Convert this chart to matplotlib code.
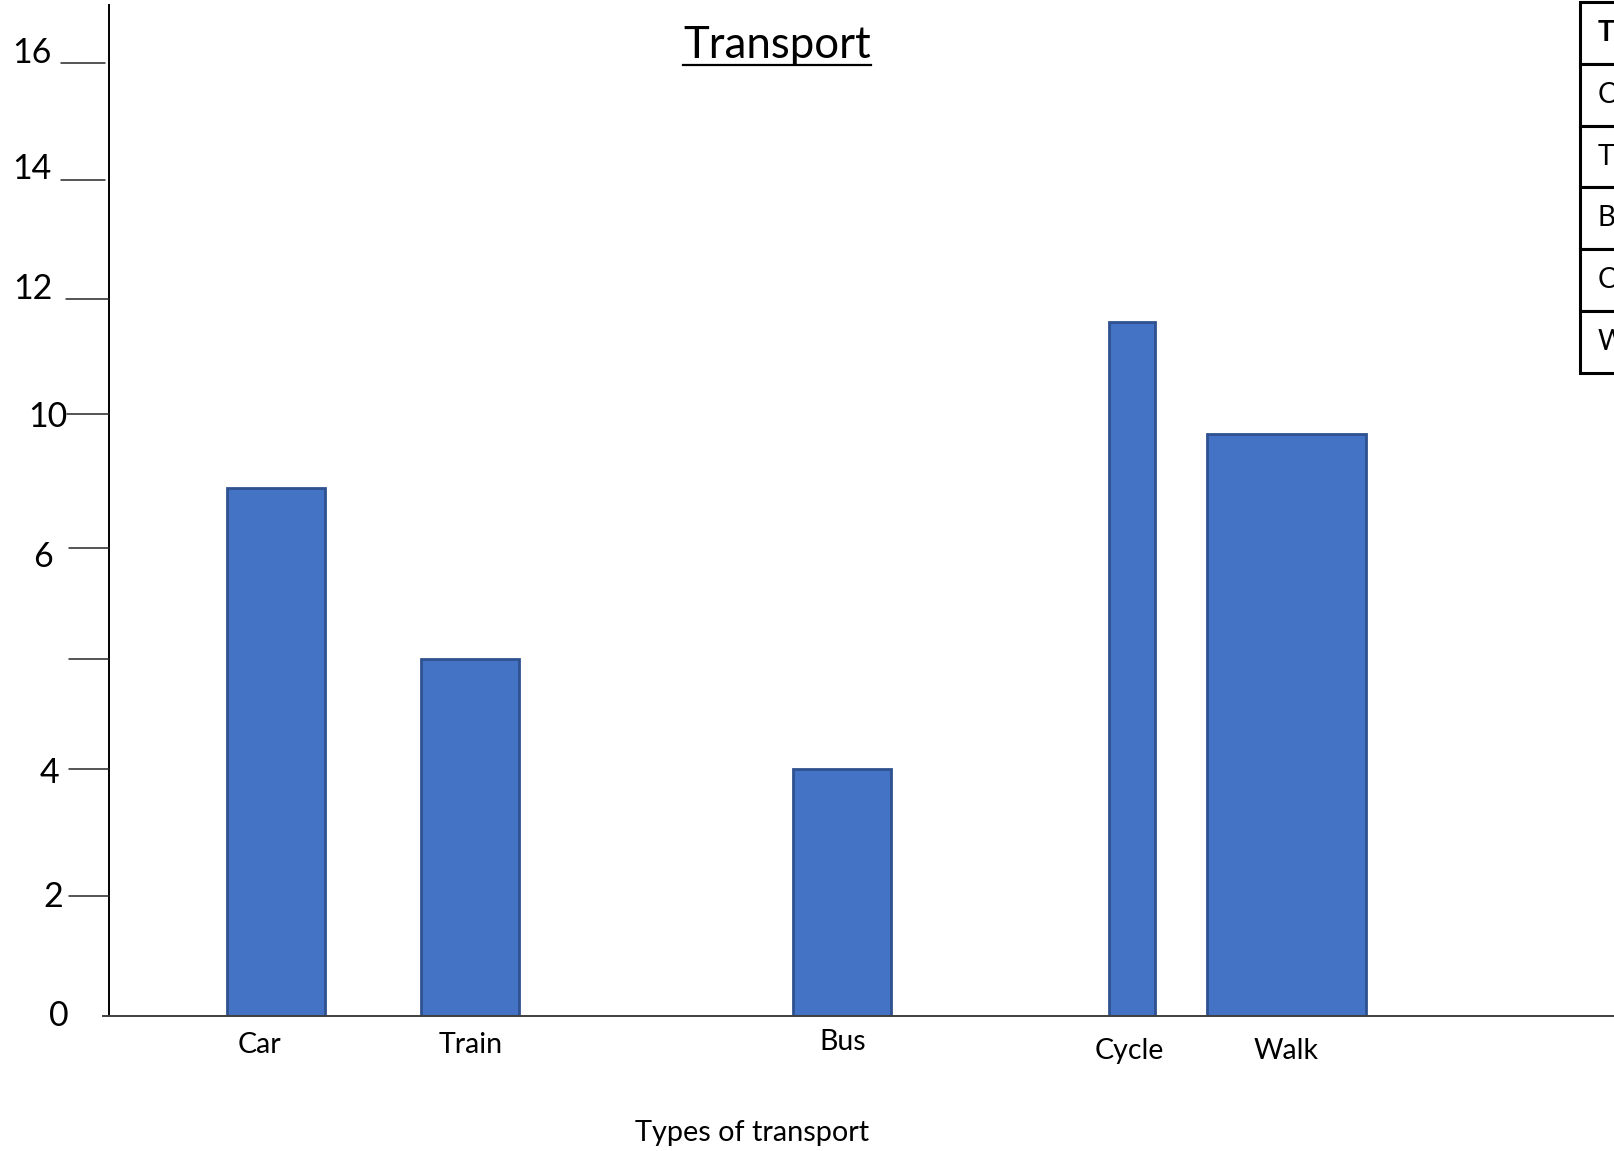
"""Transport bar chart with a hand-drawn style, uneven value axis."""

import numpy as np
import matplotlib
matplotlib.use("Agg")
import matplotlib.pyplot as plt
from matplotlib.lines import Line2D

plt.rcParams["font.family"] = ["Lato", "DejaVu Sans"]

# data
categories = ["Car", "Train", "Bus", "Cycle", "Walk"]
values = [7.8, 5, 4, 11.6, 9.4]
tick_values = [0, 2, 4, 5, 6, 10, 12, 14, 16]
tick_labels = ["0", "2", "4", "", "6", "10", "12", "14", "16"]
table_header = ["Transport", "Number"]
table_numbers = ["8", "5", "4", "12", "10"]

# layout (pixels, figure is 1614x1151 at dpi 100)
W, H = 1614, 1151
axis_x0 = 103          # left end of the x axis line
yaxis_px = 6           # y axis sits this far right of axis_x0
base_px = 1016         # baseline y (from top)
# uneven axis drawn by hand: value -> height above baseline (px)
scale_vals = [0, 2, 4, 5, 6, 10, 12, 14, 16, 17]
scale_px = [0, 120, 247, 357, 468, 602, 717, 836, 953, 1011]

bar_centers = [167.4, 361, 732.5, 1022.7, 1177]
bar_widths = [98, 98, 98, 46, 159]
label_offsets = [(-17, -29), (1, -29), (1.5, -26), (-2, -35), (0, -35)]

# tick line start (px left of the y axis) and label (right edge px left, dy px)
tick_start = [0, 40, 40, 40, 40, 42, 43, 48, 48]
tick_end = [0, 0, 0, 0, 0, 0, 0, 4, 4]
label_right = [40, 46, 50, 0, 56, 42, 56, 58, 57]
label_dy = [0, 1, 4, 0, 9, 3, -10, -11, -10]


def forward(v):
    return np.interp(v, scale_vals, scale_px)


def inverse(p):
    return np.interp(p, scale_px, scale_vals)


fig = plt.figure(figsize=(W / 100, H / 100), dpi=100)
ax = fig.add_axes([axis_x0 / W, (H - base_px) / H,
                   (W - axis_x0) / W, scale_px[-1] / H])
ax.set_yscale("function", functions=(forward, inverse))
ax.set_ylim(0, 17)
ax.set_xlim(-yaxis_px, W - axis_x0 - yaxis_px)

ax.bar(bar_centers, values, width=bar_widths, color="#4472C4",
       edgecolor="#2F528F", linewidth=2, zorder=2)

for side in ["top", "right"]:
    ax.spines[side].set_visible(False)
ax.spines["left"].set_position(("data", 0))
ax.spines["left"].set_linewidth(1.4)
ax.spines["bottom"].set_linewidth(1.4)
ax.spines["bottom"].set_color("#404040")
ax.set_xticks([])
ax.set_yticks([])

# hand-drawn ticks and labels
px = 72 / 100
for i, v in enumerate(tick_values):
    if tick_start[i] > 0:
        ax.annotate("", xy=(-tick_end[i], v), xytext=(-tick_start[i], v),
                    xycoords="data", textcoords="data",
                    arrowprops=dict(arrowstyle="-", color="#262626", lw=1.1,
                                    shrinkA=0, shrinkB=0), annotation_clip=False)
    if tick_labels[i]:
        ax.annotate(tick_labels[i], xy=(0, v),
                    xytext=(-label_right[i] * px, -label_dy[i] * px),
                    textcoords="offset points", ha="right", va="center",
                    fontsize=24.5, annotation_clip=False)

for name, x, (dx, dy) in zip(categories, bar_centers, label_offsets):
    ax.annotate(name, xy=(x, 0), xytext=(dx * px, dy * px),
                textcoords="offset points", ha="center", va="center",
                fontsize=20.5, annotation_clip=False)

fig.text(752 / W, 1 - 1133 / H, "Types of transport", ha="center",
         va="center", fontsize=20.8)

title = fig.text(777 / W, 1 - 45 / H, "Transport", ha="center", va="center",
                 fontsize=31.5)
fig.canvas.draw()
bb = title.get_window_extent()
fig.add_artist(Line2D([bb.x0 / W, bb.x1 / W], [(H - 65) / H, (H - 65) / H],
                      transform=fig.transFigure, color="black", lw=1.6))

# data table at top right, mostly off the canvas
tab_ax = fig.add_axes([1580 / W, 1 - 373 / H, 0.35, 371 / H])
tab_ax.axis("off")
tab = tab_ax.table(cellText=[[c, n] for c, n in zip(categories, table_numbers)],
                   colLabels=table_header, bbox=[0, 0, 1, 1],
                   cellLoc="left", colLoc="left")
tab.auto_set_font_size(False)
for (r, c), cell in tab.get_celld().items():
    cell.set_linewidth(2.2)
    cell.PAD = 18 / (0.35 * W * 0.5)
    cell.get_text().set_fontsize(20)
    if r == 0:
        cell.get_text().set_fontweight("bold")

fig.savefig("out.png", dpi=100)
